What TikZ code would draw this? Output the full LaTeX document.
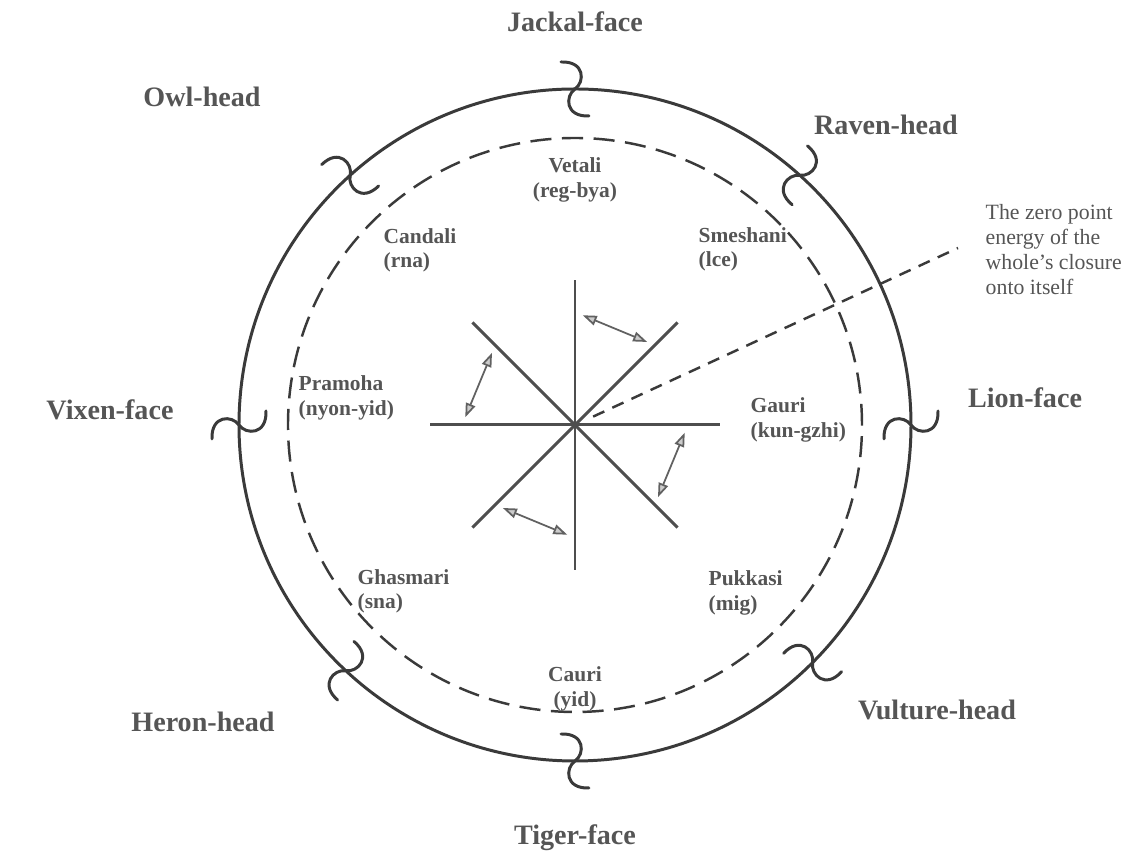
\documentclass[tikz,border=0pt]{standalone}
\usepackage{fontspec}
\setmainfont{Liberation Serif}
\usetikzlibrary{arrows.meta}
\definecolor{ink}{HTML}{3A3A3A}
\definecolor{txt}{HTML}{555555}
\tikzset{>=latex}
\tikzset{
  ring/.style={ink, line width=0.85pt, line cap=round},
  inner/.style={ink, line width=0.7pt, dash pattern=on 6pt off 3pt},
  spoke/.style={ink!90, line width=0.85pt},
  twoway/.style={arrows={Triangle[length=4pt,width=2.8pt,fill=gray!40]-Triangle[length=4pt,width=2.8pt,fill=gray!40]}, draw=ink!80, line width=0.5pt},
  leader/.style={ink, line width=0.7pt, dash pattern=on 3.5pt off 2.5pt},
  face/.style={txt, font=\fontsize{8}{9.6}\selectfont\bfseries},
  deity/.style={txt, font=\fontsize{6.1}{6.9}\selectfont\bfseries, inner sep=0pt},
  note/.style={txt, font=\fontsize{6.2}{7.1}\selectfont, align=left, anchor=north west, inner sep=0pt},
  twist/.pic={\draw[ring] (-0.14,0.27) .. controls (0.10,0.28) and (0.10,0.07) .. (0,0)
     .. controls (-0.10,-0.07) and (-0.10,-0.28) .. (0.14,-0.27);}
}

\begin{document}
\begin{tikzpicture}
\useasboundingbox (-5.75,-4.33) rectangle (5.51,4.25);
\coordinate (O) at (0,0);
% the two rings
\draw[ring] (O) circle (3.36);
\draw[inner] (O) circle (2.87);
\foreach \a in {90,48,0,-45,-90,-133,180,132}
  \pic[rotate=\a-90] at (\a:3.36) {twist};
% star in the middle
\foreach \a in {0,45,...,315}
  \draw[spoke] (O) -- (\a:1.45);
\foreach \a in {45,135,225,315}
  \draw[twoway] ({\a+4}:1.1) -- ({\a+41}:1.1);
\coordinate (zp) at (3.83,1.77);
\draw[leader, shorten <=0.2cm] (O) -- (zp);
% heads and faces
\node[face] (jackal) at (0,4.03) {Jackal-face};
\node[face] (owl) at (-3.73,3.28) {Owl-head};
\node[face] (raven) at (3.11,3.00) {Raven-head};
\node[face] (vixen) at (-4.65,0.15) {Vixen-face};
\node[face] (lion) at (4.50,0.27) {Lion-face};
\node[face] (heron) at (-3.72,-2.97) {Heron-head};
\node[face] (vulture) at (3.62,-2.85) {Vulture-head};
\node[face] (tiger) at (0,-4.13) {Tiger-face};
% the eight inside the dashed ring
\node[deity, align=center] (vetali) at (0,2.45) {Vetali\\(reg-bya)};
\node[deity, align=left, anchor=west] (candali) at (-1.92,1.75) {Candali\\(rna)};
\node[deity, align=left, anchor=west] (smeshani) at (1.23,1.76) {Smeshani\\(lce)};
\node[deity, align=left, anchor=west] (pramoha) at (-2.77,0.27) {Pramoha\\(nyon-yid)};
\node[deity, align=left, anchor=west] (gauri) at (1.75,0.05) {Gauri\\(kun-gzhi)};
\node[deity, align=left, anchor=west] (ghasmari) at (-2.18,-1.66) {Ghasmari\\(sna)};
\node[deity, align=left, anchor=west] (pukkasi) at (1.33,-1.68) {Pukkasi\\(mig)};
\node[deity, align=center] (cauri) at (0,-2.64) {Cauri\\(yid)};
\node[note] (note) at (4.10,2.21) {The zero point\\energy of the\\whole’s closure\\onto itself};
\end{tikzpicture}
\end{document}
